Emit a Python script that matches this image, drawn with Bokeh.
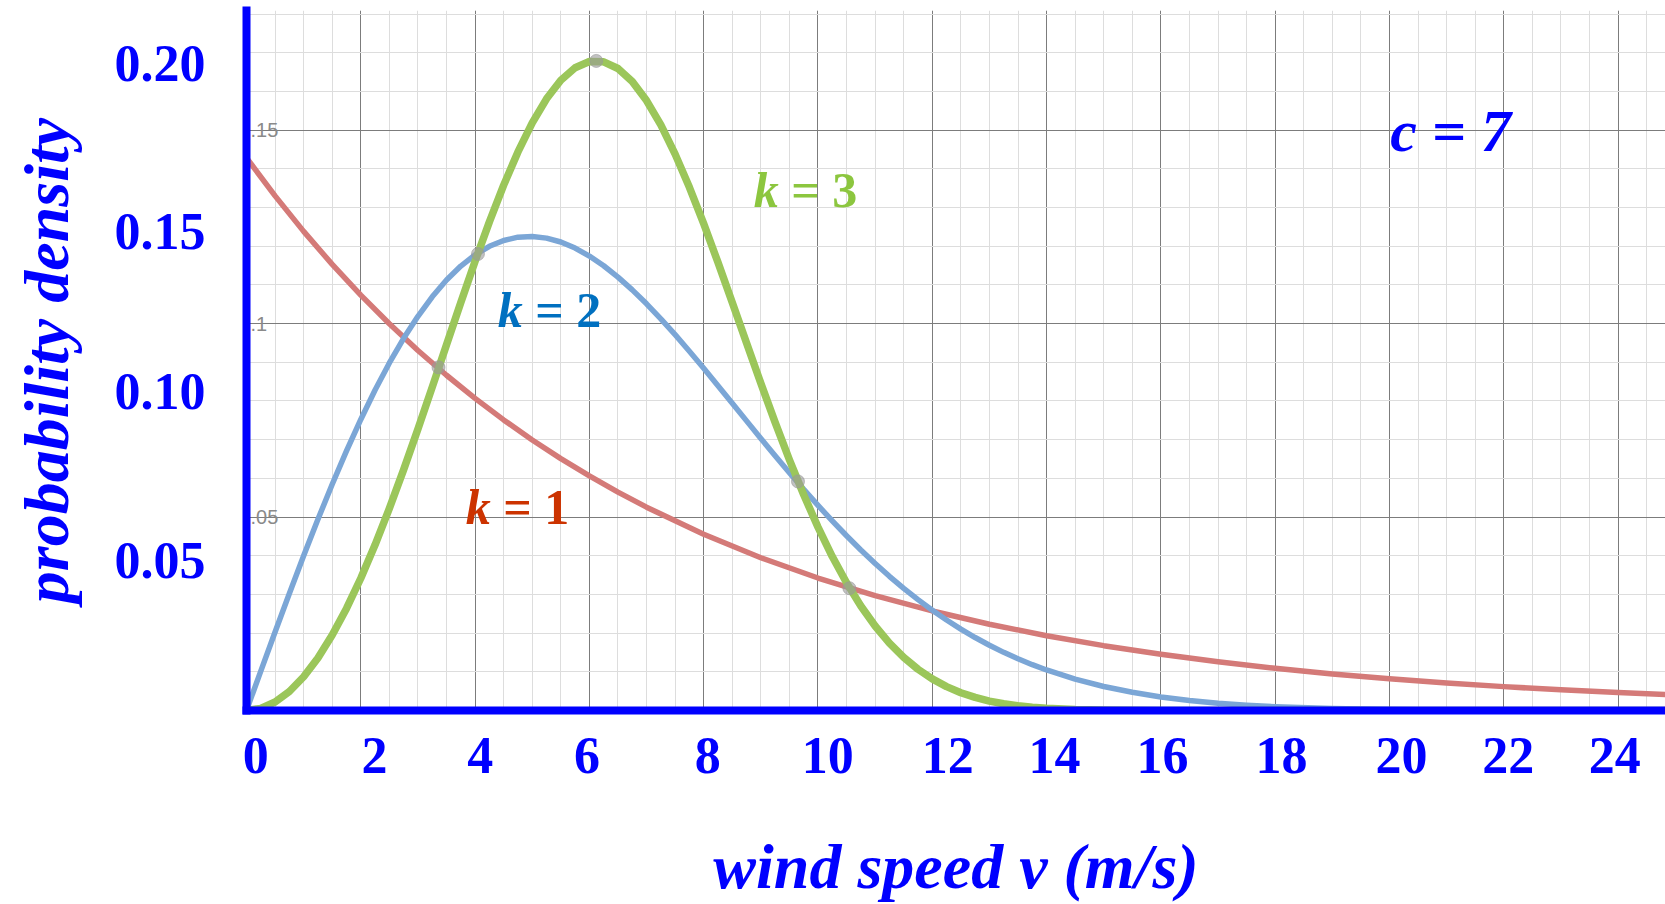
from bokeh.plotting import figure
from bokeh.models import Range1d, FixedTicker, SingleIntervalTicker
from bokeh.core.properties import value
from bokeh.embed import file_html
from bokeh.resources import INLINE

# ---------------- data ----------------
# Weibull probability density, scale c = 7, shape k = 1, 2, 3
x_k1 = [0, 0.5, 1, 1.5, 2, 2.5, 3, 3.5, 4, 4.5, 5, 5.5, 6, 6.5, 7,
        8, 9, 10, 11, 12, 13, 14, 15, 16, 17, 18, 19, 20, 21, 22, 23, 24, 25]
y_k1 = [0.14286, 0.13301, 0.12384, 0.11530, 0.10735, 0.09995, 0.09306, 0.08665,
        0.08067, 0.07511, 0.06993, 0.06511, 0.06062, 0.05645, 0.05255,
        0.04556, 0.03949, 0.03424, 0.02968, 0.02573, 0.02230, 0.01933, 0.01676,
        0.01453, 0.01259, 0.01092, 0.00946, 0.00820, 0.00711, 0.00617, 0.00534,
        0.00463, 0.00402]

x_k2 = [0, 0.25, 0.5, 0.75, 1, 1.25, 1.5, 1.75, 2, 2.25, 2.5, 2.75, 3, 3.25,
        3.5, 3.75, 4, 4.25, 4.5, 4.75, 5, 5.25, 5.5, 5.75, 6, 6.25, 6.5, 6.75,
        7, 7.25, 7.5, 7.75, 8, 8.25, 8.5, 8.75, 9, 9.25, 9.5, 9.75, 10, 10.25,
        10.5, 10.75, 11, 11.25, 11.5, 11.75, 12, 12.25, 12.5, 12.75, 13, 13.25,
        13.5, 13.75, 14, 14.5, 15, 15.5, 16, 16.5, 17, 17.5, 18, 19, 20, 21,
        22, 23, 24, 25]
y_k2 = [0.0, 0.01019, 0.02030, 0.03026, 0.03999, 0.04942, 0.05848, 0.06710,
        0.07523, 0.08282, 0.08982, 0.09619, 0.10190, 0.10693, 0.11126, 0.11488,
        0.11778, 0.11999, 0.12149, 0.12234, 0.12253, 0.12210, 0.12109, 0.11953,
        0.11746, 0.11495, 0.11202, 0.10872, 0.10511, 0.10123, 0.09713, 0.09285,
        0.08845, 0.08395, 0.07941, 0.07486, 0.07033, 0.06586, 0.06147, 0.05719,
        0.05302, 0.04902, 0.04517, 0.04150, 0.03801, 0.03469, 0.03158, 0.02866,
        0.02592, 0.02339, 0.02103, 0.01886, 0.01686, 0.01503, 0.01336, 0.01184,
        0.01047, 0.00811, 0.00620, 0.00470, 0.00351, 0.00260, 0.00190, 0.00138,
        0.00099, 0.00049, 0.00023, 0.00011, 0.00005, 0.00002, 0.00001, 0.0]

x_k3 = [0, 0.25, 0.5, 0.75, 1, 1.25, 1.5, 1.75, 2, 2.25, 2.5, 2.75, 3, 3.25,
        3.5, 3.75, 4, 4.25, 4.5, 4.75, 5, 5.25, 5.5, 5.75, 6, 6.25, 6.5, 6.75,
        7, 7.25, 7.5, 7.75, 8, 8.25, 8.5, 8.75, 9, 9.25, 9.5, 9.75, 10, 10.25,
        10.5, 10.75, 11, 11.25, 11.5, 11.75, 12, 12.25, 12.5, 12.75, 13, 13.25,
        13.5, 13.75, 14, 14.5, 15, 15.5, 16, 17, 18, 19, 20, 21, 22, 23, 24, 25]
y_k3 = [0.0, 0.00055, 0.00219, 0.00491, 0.00872, 0.01359, 0.01949, 0.02637,
        0.03418, 0.04283, 0.05223, 0.06225, 0.07276, 0.08359, 0.09455, 0.10547,
        0.11612, 0.12630, 0.13579, 0.14438, 0.15188, 0.15810, 0.16289, 0.16613,
        0.16774, 0.16767, 0.16594, 0.16257, 0.15766, 0.15136, 0.14381, 0.13522,
        0.12582, 0.11582, 0.10547, 0.09498, 0.08457, 0.07447, 0.06482, 0.05576,
        0.04740, 0.03979, 0.03300, 0.02702, 0.02184, 0.01743, 0.01372, 0.01066,
        0.00817, 0.00617, 0.00460, 0.00338, 0.00244, 0.00174, 0.00122, 0.00085,
        0.00057, 0.00025, 0.00010, 0.00004, 0.00001, 0.0, 0.0, 0.0, 0.0, 0.0,
        0.0, 0.0, 0.0, 0.0]

# marked points (curve intersections and k = 3 peak)
dot_x = [3.36, 4.05, 6.12, 9.65, 10.55]
dot_y = [0.0887, 0.1180, 0.1679, 0.0592, 0.0316]

x_tick_labels = ["0", "2", "4", "6", "8", "10", "12", "14", "16", "18", "20", "22", "24"]
y_tick_labels = ["0.05", "0.10", "0.15", "0.20"]
inner_labels = [".05", ".1", ".15"]
inner_values = [0.05, 0.10, 0.15]

shape_values = ["1", "2", "3"]
param_label = "c = 7"

# ---------------- layout constants ----------------
X_LABEL_POS = [0.16, 2.24, 4.09, 5.96, 8.07, 10.17, 12.27, 14.14, 16.03, 18.11, 20.21, 22.08, 23.94]
Y_LABEL_POS = [0.0387, 0.0825, 0.1237, 0.1673]
CURVE_LABEL_X = [4.74, 5.30, 9.78]
CURVE_LABEL_Y = [0.0526, 0.1036, 0.1345]
CURVE_LABEL_COLORS = ["#cc3300", "#0070c0", "#8cc63f"]
PARAM_X, PARAM_Y = 21.07, 0.1497
LBL_SIZE = 50  # px

BLUE = "#0000ff"
SERIF = "Liberation Serif"

p = figure(width=1665, height=904,
           x_range=Range1d(0, 24.83), y_range=Range1d(0, 0.18093),
           output_backend="svg", toolbar_location=None,
           min_border_left=246, min_border_right=0,
           min_border_top=10, min_border_bottom=192)
p.outline_line_color = None
p.background_fill_color = "white"
p.border_fill_color = "white"

# grids
p.xgrid[0].ticker = SingleIntervalTicker(interval=2, num_minor_ticks=4)
p.ygrid[0].ticker = SingleIntervalTicker(interval=0.05, num_minor_ticks=5)
for g in (p.xgrid[0], p.ygrid[0]):
    g.grid_line_color = "#7c7c7c"
    g.grid_line_width = 1
    g.minor_grid_line_color = "#dddddd"
    g.minor_grid_line_width = 1

# axes
for ax in (p.xaxis[0], p.yaxis[0]):
    ax.axis_line_color = BLUE
    ax.axis_line_width = 8
    ax.axis_line_cap = "square"
    ax.major_tick_line_color = None
    ax.minor_tick_line_color = None
    ax.major_tick_in = 0
    ax.major_tick_out = 0
    ax.minor_tick_in = 0
    ax.minor_tick_out = 0
    ax.major_label_text_color = BLUE
    ax.major_label_text_font = SERIF
    ax.major_label_text_font_style = "bold"
    ax.major_label_text_font_size = "52px"
    ax.axis_label_text_color = BLUE
    ax.axis_label_text_font = SERIF
    ax.axis_label_text_font_style = "bold italic"
    ax.axis_label_text_font_size = "64px"

p.xaxis[0].ticker = FixedTicker(ticks=X_LABEL_POS)
p.xaxis[0].major_label_overrides = {t: s for t, s in zip(X_LABEL_POS, x_tick_labels)}
p.xaxis[0].major_label_standoff = 27
p.xaxis[0].axis_label = "wind speed v (m/s)"
p.xaxis[0].axis_label_standoff = 55

p.yaxis[0].ticker = FixedTicker(ticks=Y_LABEL_POS)
p.yaxis[0].major_label_overrides = {t: s for t, s in zip(Y_LABEL_POS, y_tick_labels)}
p.yaxis[0].major_label_standoff = 41
p.yaxis[0].axis_label = "probability density"
p.yaxis[0].axis_label_standoff = 30

# curves
p.line(x_k1, y_k1, line_color="#d47a78", line_width=5.5, line_join="round", line_cap="round")
p.line(x_k2, y_k2, line_color="#7ba6d6", line_width=5.5, line_join="round", line_cap="round")
p.line(x_k3, y_k3, line_color="#9bc65a", line_width=7.5, line_join="round", line_cap="round")

p.scatter(dot_x, dot_y, size=13, color="#9a9a9a", alpha=0.6)

# inner small grid labels
p.text(x=[0] * len(inner_values), y=inner_values, text=inner_labels,
       x_offset=4, text_align="left", text_baseline="middle",
       text_font=value("Liberation Sans"), text_font_size="20px", text_color="#8a8a8a")

# curve labels: italic "k", upright bold "= n"
half_w = 2.07 * LBL_SIZE / 2
p.text(x=CURVE_LABEL_X, y=CURVE_LABEL_Y, text=["k"] * 3, text_color=CURVE_LABEL_COLORS,
       x_offset=-half_w, text_align="left", text_baseline="middle",
       text_font=value(SERIF), text_font_style="bold italic", text_font_size=f"{LBL_SIZE}px")
p.text(x=CURVE_LABEL_X, y=CURVE_LABEL_Y, text=["= " + s for s in shape_values],
       text_color=CURVE_LABEL_COLORS,
       x_offset=-half_w + 0.75 * LBL_SIZE, text_align="left", text_baseline="middle",
       text_font=value(SERIF), text_font_style="bold", text_font_size=f"{LBL_SIZE}px")
p.text(x=[PARAM_X], y=[PARAM_Y], text=[param_label], text_color=BLUE,
       text_align="center", text_baseline="middle",
       text_font=value(SERIF), text_font_style="bold italic", text_font_size="60px")

open("out.html", "w").write(file_html(p, INLINE))
